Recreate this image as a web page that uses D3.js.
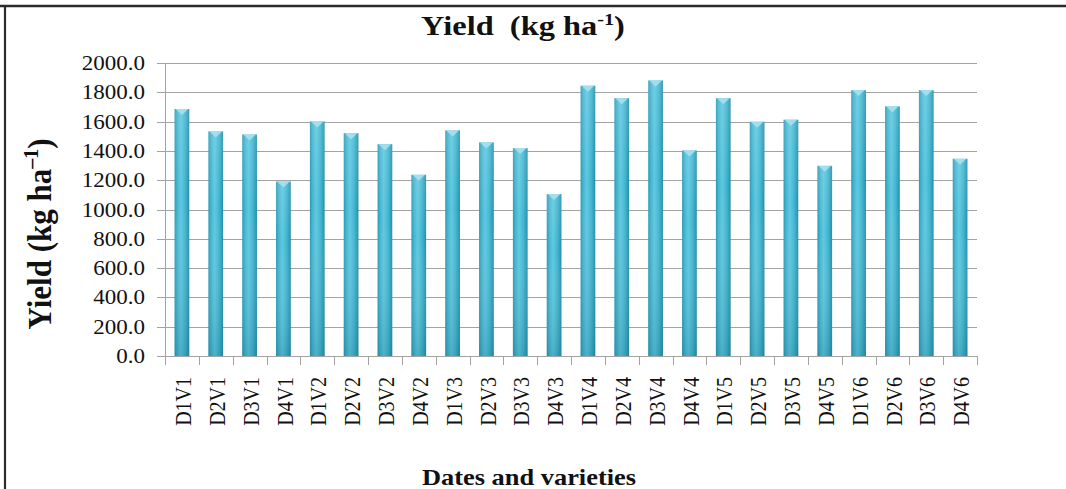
<!DOCTYPE html>
<html>
<head>
<meta charset="utf-8">
<script src="https://cdn.jsdelivr.net/npm/d3@7"></script>
<style>
  html, body { margin: 0; padding: 0; background: #fff; }
  svg { display: block; }
  text { white-space: pre; }
</style>
</head>
<body>
<svg id="chart" width="1066" height="489"></svg>
<script>
// Treatment combinations: sowing dates (D1–D4) × varieties (V1–V6)
const categories = [
  "D1V1","D2V1","D3V1","D4V1",
  "D1V2","D2V2","D3V2","D4V2",
  "D1V3","D2V3","D3V3","D4V3",
  "D1V4","D2V4","D3V4","D4V4",
  "D1V5","D2V5","D3V5","D4V5",
  "D1V6","D2V6","D3V6","D4V6"
];
// Grain yield, kg ha-1
const yieldValues = [
  1686, 1533, 1512, 1191,
  1601, 1521, 1446, 1237,
  1540, 1458, 1419, 1105,
  1845, 1760, 1881, 1403,
  1760, 1599, 1613, 1298,
  1815, 1704, 1815, 1346
];
const yTicks = [0, 200, 400, 600, 800, 1000, 1200, 1400, 1600, 1800, 2000];

const svg = d3.select("#chart");
const W = 1066, H = 489;
const plot = { left: 165, right: 977, top: 63, bottom: 356 };
const serif = "'Liberation Serif', 'Times New Roman', serif";
const ink = "#111";
const stretch = 1.2;

// Frame lines (top and left)
svg.append("line").attr("x1", 0).attr("x2", W).attr("y1", 6).attr("y2", 6)
  .attr("stroke", "#2b2b2b").attr("stroke-width", 2.5);
svg.append("line").attr("x1", 5).attr("x2", 5).attr("y1", 5).attr("y2", H)
  .attr("stroke", "#2b2b2b").attr("stroke-width", 2.2);

const x = d3.scaleBand().domain(categories).range([plot.left, plot.right]).paddingInner(0.565).paddingOuter(0.2825);
const xb = d3.scaleBand().domain(categories).range([plot.left, plot.right]);
const y = d3.scaleLinear().domain([0, 2000]).range([plot.bottom, plot.top]);

// Gradients for the cylinder-like bars
const defs = svg.append("defs");
const hg = defs.append("linearGradient").attr("id", "barH").attr("x1", 0).attr("x2", 1).attr("y1", 0).attr("y2", 0);
[[0, "#2a98b3"], [0.18, "#43b6d0"], [0.42, "#5fc8e0"], [0.7, "#45b7d1"], [0.9, "#2c9fba"], [1, "#2389a4"]]
  .forEach(([o, c]) => hg.append("stop").attr("offset", o).attr("stop-color", c));
const vg = defs.append("linearGradient").attr("id", "barV").attr("x1", 0).attr("x2", 0).attr("y1", 0).attr("y2", 1);
[[0, "#ffffff", 0.12], [0.35, "#ffffff", 0.0], [1, "#0a5a70", 0.22]]
  .forEach(([o, c, op]) => vg.append("stop").attr("offset", o).attr("stop-color", c).attr("stop-opacity", op));

// Gridlines with left tick stubs
const grid = svg.append("g");
grid.selectAll("line").data(yTicks).join("line")
  .attr("x1", plot.left - 8).attr("x2", plot.right)
  .attr("y1", d => Math.round(y(d)) + 0.5).attr("y2", d => Math.round(y(d)) + 0.5)
  .attr("stroke", "#a3a3a3").attr("stroke-width", 1);

// Y axis line
svg.append("line").attr("x1", plot.left + 0.5).attr("x2", plot.left + 0.5)
  .attr("y1", plot.top).attr("y2", plot.bottom + 9)
  .attr("stroke", "#a3a3a3");

// Category boundary ticks below the baseline
svg.append("g").selectAll("line").data(categories).join("line")
  .attr("x1", d => Math.round(xb(d) + xb.bandwidth()) + 0.5)
  .attr("x2", d => Math.round(xb(d) + xb.bandwidth()) + 0.5)
  .attr("y1", plot.bottom).attr("y2", plot.bottom + 9)
  .attr("stroke", "#a3a3a3");

// Bars
const bars = svg.append("g");
const data = categories.map((c, i) => ({ c, v: yieldValues[i] }));
bars.selectAll("rect.body").data(data).join("rect").attr("class", "body")
  .attr("x", d => x(d.c)).attr("width", x.bandwidth())
  .attr("y", d => y(d.v)).attr("height", d => y(0) - y(d.v))
  .attr("fill", "url(#barH)");
bars.selectAll("rect.shade").data(data).join("rect").attr("class", "shade")
  .attr("x", d => x(d.c)).attr("width", x.bandwidth())
  .attr("y", d => y(d.v)).attr("height", d => y(0) - y(d.v))
  .attr("fill", "url(#barV)");
// Light cap on top of each bar
bars.selectAll("path.cap").data(data).join("path").attr("class", "cap")
  .attr("d", d => {
    const x0 = x(d.c), w = x.bandwidth(), t = y(d.v);
    return `M${x0 + 1},${t} L${x0 + w - 1},${t} L${x0 + w / 2},${t + 6} Z`;
  })
  .attr("fill", "#a8e0ec").attr("opacity", 0.9);

// Y tick labels
svg.append("g").selectAll("text").data(yTicks).join("text")
  .attr("transform", d => `translate(145,${y(d)}) scale(1.15,1)`)
  .attr("text-anchor", "end").attr("dy", "0.35em")
  .attr("font-family", serif).attr("font-size", 20).attr("fill", ink)
  .text(d => d3.format(".1f")(d));

// X tick labels (rotated)
svg.append("g").selectAll("text").data(categories).join("text")
  .attr("transform", d => `translate(${xb(d) + xb.bandwidth() / 2 + 1},377) scale(${stretch},1) rotate(-90)`)
  .attr("text-anchor", "end").attr("dy", "0.34em")
  .attr("font-family", serif).attr("font-size", 20).attr("fill", ink)
  .text(d => d);

// Chart title
const title = svg.append("text")
  .attr("transform", `translate(523,35) scale(${stretch},1)`)
  .attr("text-anchor", "middle")
  .attr("font-family", serif).attr("font-size", 27).attr("font-weight", "bold").attr("fill", ink);
title.append("tspan").text("Yield  (kg ha");
title.append("tspan").attr("dy", -10).attr("font-size", 17).text("-1");
title.append("tspan").attr("dy", 10).text(")");

// Y axis title
const yTitle = svg.append("text")
  .attr("transform", `translate(51,234) scale(1.1,1) rotate(-90)`)
  .attr("text-anchor", "middle")
  .attr("font-family", serif).attr("font-size", 31).attr("font-weight", "bold").attr("fill", ink);
yTitle.append("tspan").text("Yield (kg ha");
yTitle.append("tspan").attr("dy", -12).attr("font-size", 20).text("–1");
yTitle.append("tspan").attr("dy", 12).text(")");

// X axis title
svg.append("text")
  .attr("transform", `translate(529,485) scale(1.1,1)`)
  .attr("text-anchor", "middle")
  .attr("font-family", serif).attr("font-size", 24).attr("font-weight", "bold").attr("fill", ink)
  .text("Dates and varieties");
</script>
</body>
</html>
